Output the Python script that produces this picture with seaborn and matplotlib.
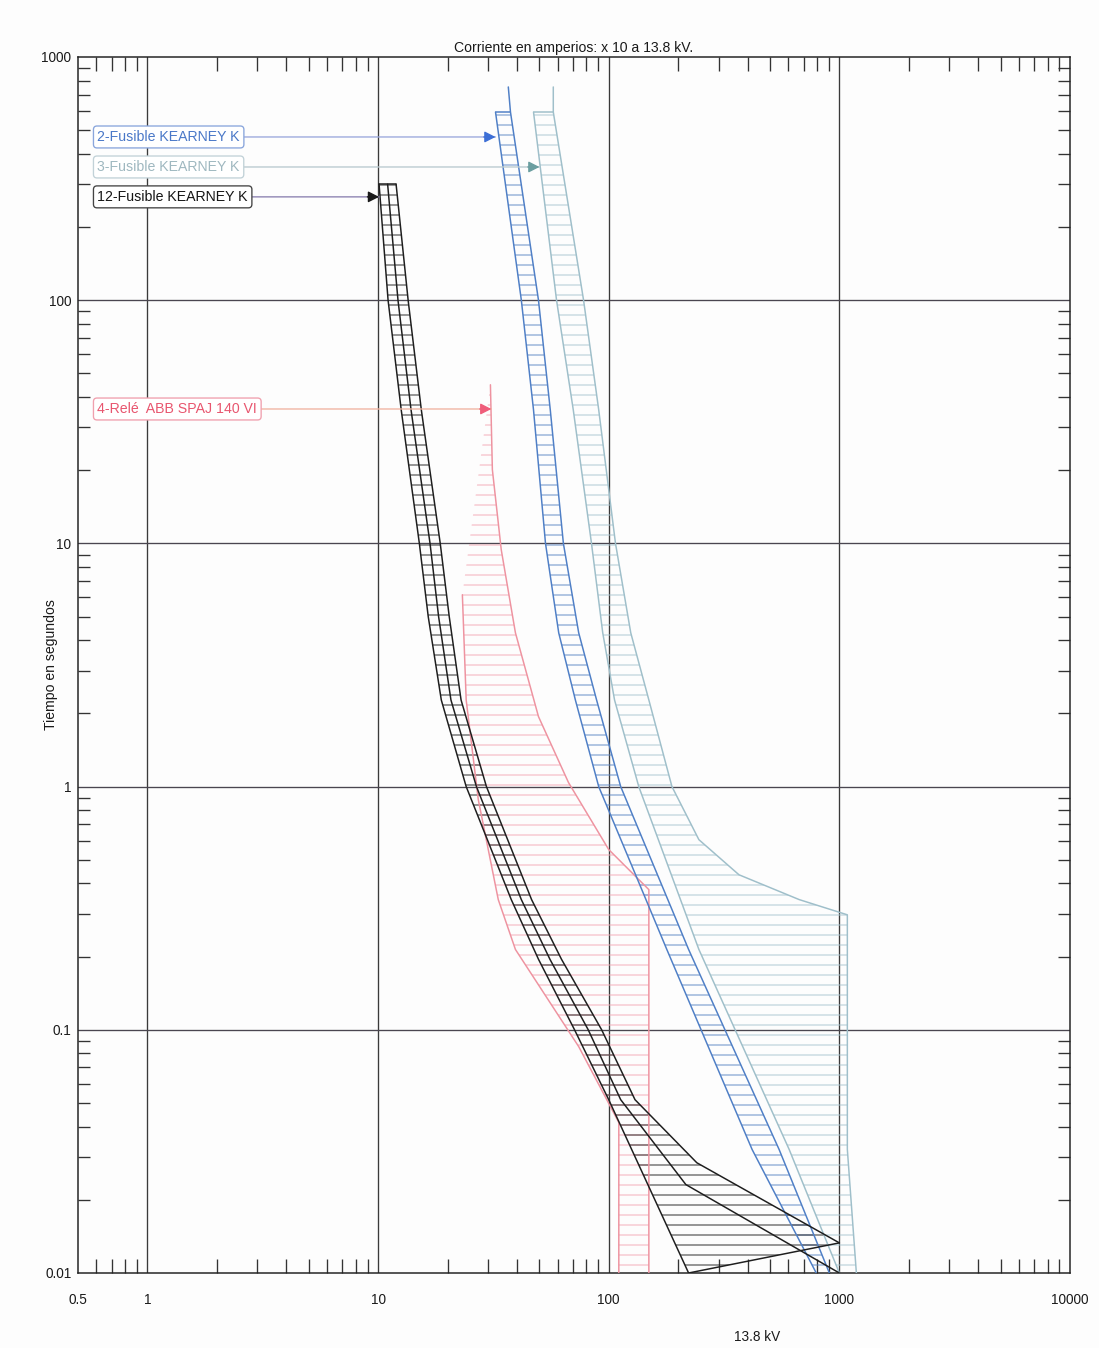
import numpy as np
import pandas as pd
import matplotlib
matplotlib.use("Agg")
import matplotlib.pyplot as plt
from matplotlib.ticker import LogLocator, NullFormatter, FixedLocator, FixedFormatter
import seaborn as sns

# ---------------- data (current in A x10, time in s) ----------------
# 12-Fusible KEARNEY K (black)
blk_min_A = [10.1, 11.05, 12.6, 15.1, 16.5, 18.8, 24.1, 37.8, 49.6, 71.1, 100, 222]
blk_min_t = [300, 100, 35.4, 10, 5.0, 2.27, 1.0, 0.343, 0.195, 0.1, 0.0516, 0.01]
blk_mid_A = [11.0, 12.2, 13.9, 16.8, 18.3, 20.7, 26.7, 41.8, 55.6, 81.5, 112.7, 216, 1000]
blk_mid_t = [300, 100, 35.4, 10, 5.0, 2.27, 1.0, 0.343, 0.195, 0.1, 0.0516, 0.0231, 0.01]
blk_tot_A = [11.97, 13.5, 15.4, 18.6, 20.35, 22.9, 29.5, 46.3, 62.4, 93.2, 130, 241, 1000]
blk_tot_t = [300, 100, 35.4, 10, 5.0, 2.27, 1.0, 0.343, 0.195, 0.1, 0.0516, 0.0284, 0.0133]

# 2-Fusible KEARNEY K (blue)
blu_min_A = [32.3, 41.8, 47.2, 53.2, 60.7, 71.7, 90.5, 178.6, 418.5, 794]
blu_min_t = [594, 100, 35.4, 10, 4.29, 2.27, 1.0, 0.214, 0.0322, 0.01]
blu_tot_A = [36.7, 37.5, 49.6, 55.8, 63.6, 74.1, 88.6, 112.7, 222, 548, 905]
blu_tot_t = [753, 594, 100, 35.4, 10, 4.29, 2.27, 1.0, 0.214, 0.0322, 0.01]

# 3-Fusible KEARNEY K (light teal)
tea_min_A = [47.2, 59.4, 70.2, 84.2, 94.2, 106, 135, 246, 606, 1000]
tea_min_t = [594, 100, 35.4, 10, 4.29, 2.27, 1.0, 0.214, 0.0322, 0.01]
tea_tot_A = [57.5, 57.5, 77.8, 90.5, 107, 124.6, 149.3, 188, 246, 367, 670, 1083, 1083, 1185]
tea_tot_t = [753, 594, 100, 35.4, 10, 4.29, 2.27, 1.0, 0.605, 0.434, 0.343, 0.297, 0.0322, 0.01]

# 4-Rele ABB SPAJ 140 VI (pink)
rel_lo_A = [23.2, 24.1, 27.2, 33.2, 39.4, 74.1, 110.6, 110.6]
rel_lo_t = [6.15, 2.27, 0.883, 0.343, 0.214, 0.0853, 0.0416, 0.01]
rel_hi_A = [30.7, 31.3, 34.2, 39.4, 49.6, 66.9, 100, 149.3, 149.3]
rel_hi_t = [44.9, 20.1, 9.42, 4.29, 1.94, 1.04, 0.551, 0.377, 0.01]

# labels
lab_text = ["2-Fusible KEARNEY K", "3-Fusible KEARNEY K", "12-Fusible KEARNEY K", "4-Relé  ABB SPAJ 140 VI"]
lab_t = [469, 353, 266, 35.7]
lab_tip_A = [32.3, 50.1, 10.1, 31.0]
lab_x_A = 0.607

x_ticks = [0.5, 1, 10, 100, 1000, 10000]
x_tick_labels = ["0.5", "1", "10", "100", "1000", "10000"]
y_ticks = [0.01, 0.1, 1, 10, 100, 1000]
y_tick_labels = ["0.01", "0.1", "1", "10", "100", "1000"]

# ---------------- styling ----------------
C_BLK = "#1e1e1e"
C_BLU = "#4f7fc6"
C_TEA = "#9fbfca"
C_PNK = "#ee93a0"
lab_color = ["#4a78c8", "#9fb8c0", "#151515", "#e8566f"]
lab_edge = ["#8aa6dc", "#c2d2d8", "#444444", "#f0a0ae"]
lab_line = ["#9aa8dc", "#b9c9cf", "#8a80b0", "#f0b3a0"]
lab_head = ["#3d6fd6", "#6a9ea0", "#1a1a1a", "#ef5d7a"]

sns.set_style("white")
plt.rcParams["font.family"] = ["Liberation Sans", "DejaVu Sans"]
plt.rcParams["hatch.linewidth"] = 0.55

DPI = 120
fig = plt.figure(figsize=(1099 / DPI, 1348 / DPI), dpi=DPI, facecolor="#fdfdfd")
ax = fig.add_axes([78 / 1099, 1 - 1273 / 1348, (1070 - 78) / 1099, (1273 - 57) / 1348])
ax.set_facecolor("#fdfdfd")
ax.set_xscale("log")
ax.set_yscale("log")
ax.set_xlim(0.5, 10000)
ax.set_ylim(0.01, 1000)

# grid
for v in [1, 10, 100, 1000]:
    ax.axvline(v, color="#3a3a3a", lw=0.8, zorder=1)
for v in [0.1, 1, 10, 100]:
    ax.axhline(v, color="#4a4650", lw=0.8, zorder=1)

# hatched bands
def band(xa, ya, xb, yb, col):
    px = list(xa) + list(xb)[::-1]
    py = list(ya) + list(yb)[::-1]
    ax.fill(px, py, facecolor="none", edgecolor=col, hatch="--", linewidth=0, zorder=2)

band(rel_hi_A, rel_hi_t, rel_lo_A, rel_lo_t, "#f3aab5")
band(tea_min_A, tea_min_t, tea_tot_A[1:], tea_tot_t[1:], "#a9c6d0")
band(blu_min_A, blu_min_t, blu_tot_A[1:], blu_tot_t[1:], "#5b86c4")
band(blk_min_A, blk_min_t, blk_tot_A, blk_tot_t, "#202020")

# boundary curves through seaborn
curves = {
    "rel_lo": (rel_lo_A, rel_lo_t, C_PNK),
    "rel_hi": (rel_hi_A, rel_hi_t, C_PNK),
    "tea_min": (tea_min_A, tea_min_t, C_TEA),
    "tea_tot": (tea_tot_A, tea_tot_t, C_TEA),
    "tea_top": ([tea_min_A[0], tea_tot_A[1]], [tea_min_t[0], tea_tot_t[1]], C_TEA),
    "blu_min": (blu_min_A, blu_min_t, C_BLU),
    "blu_tot": (blu_tot_A, blu_tot_t, C_BLU),
    "blu_top": ([blu_min_A[0], blu_tot_A[1]], [blu_min_t[0], blu_tot_t[1]], C_BLU),
    "blk_min": (blk_min_A, blk_min_t, C_BLK),
    "blk_mid": (blk_mid_A, blk_mid_t, C_BLK),
    "blk_tot": (blk_tot_A, blk_tot_t, C_BLK),
    "blk_top": ([blk_min_A[0], blk_tot_A[0]], [blk_min_t[0], blk_tot_t[0]], C_BLK),
    "blk_bot": ([blk_min_A[-1], blk_tot_A[-1]], [blk_min_t[-1], blk_tot_t[-1]], C_BLK),
}
rows = []
for name, (xa, ya, c) in curves.items():
    for i, (a, t) in enumerate(zip(xa, ya)):
        rows.append({"A": a, "t": t, "curve": name, "order": i})
df = pd.DataFrame(rows)
palette = {k: v[2] for k, v in curves.items()}
sns.lineplot(data=df, x="A", y="t", hue="curve", units="curve", estimator=None,
             sort=False, palette=palette, legend=False, lw=0.9, ax=ax, zorder=3)

# labels with arrows
for txt, t, tip, tc, ec, lc, hc in zip(lab_text, lab_t, lab_tip_A, lab_color, lab_edge, lab_line, lab_head):
    ax.annotate(txt, xy=(tip, t), xytext=(lab_x_A, t), textcoords="data",
                ha="left", va="center", fontsize=8.5, color=tc, zorder=6,
                bbox=dict(boxstyle="round,pad=0.28,rounding_size=0.25", fc="white", ec=ec, lw=0.8),
                arrowprops=dict(arrowstyle="-", color=lc, lw=0.8, shrinkA=0, shrinkB=0))
    ax.annotate("", xy=(tip, t), xytext=(-7, 0), textcoords="offset points",
                arrowprops=dict(arrowstyle="-|>,head_length=0.55,head_width=0.28",
                                color=hc, lw=0.8, shrinkA=0, shrinkB=0), zorder=7)

# ticks
ax.xaxis.set_major_locator(FixedLocator(x_ticks))
ax.xaxis.set_major_formatter(FixedFormatter(x_tick_labels))
ax.yaxis.set_major_locator(FixedLocator(y_ticks))
ax.yaxis.set_major_formatter(FixedFormatter(y_tick_labels))
ax.xaxis.set_minor_locator(LogLocator(base=10, subs=np.arange(2, 10) * 1.0, numticks=20))
ax.yaxis.set_minor_locator(LogLocator(base=10, subs=np.arange(2, 10) * 1.0, numticks=20))
ax.xaxis.set_minor_formatter(NullFormatter())
ax.yaxis.set_minor_formatter(NullFormatter())
ax.tick_params(which="major", length=0, labelsize=8.2, colors="#1a1a1a")
ax.tick_params(axis="x", which="major", pad=12)
ax.tick_params(axis="y", which="major", pad=4)
ax.tick_params(axis="x", which="minor", direction="in", length=8.5, width=0.8,
               top=True, bottom=True, color="#333333")
ax.tick_params(axis="y", which="minor", direction="in", length=7, width=0.8,
               left=True, right=True, color="#333333")
for s in ax.spines.values():
    s.set_color("#222222")
    s.set_linewidth(0.9)

ax.set_title("Corriente en amperios: x 10 a 13.8 kV.", fontsize=8.4, color="#1a1a1a", pad=3)
ax.set_ylabel("Tiempo en segundos", fontsize=8.4, color="#1a1a1a", labelpad=-10)
ax.set_xlabel("")
fig.text(757 / 1099, 1 - 1337 / 1348, "13.8 kV", ha="center", va="center", fontsize=8.2, color="#1a1a1a")

fig.savefig("out.png", dpi=DPI, facecolor=fig.get_facecolor())
